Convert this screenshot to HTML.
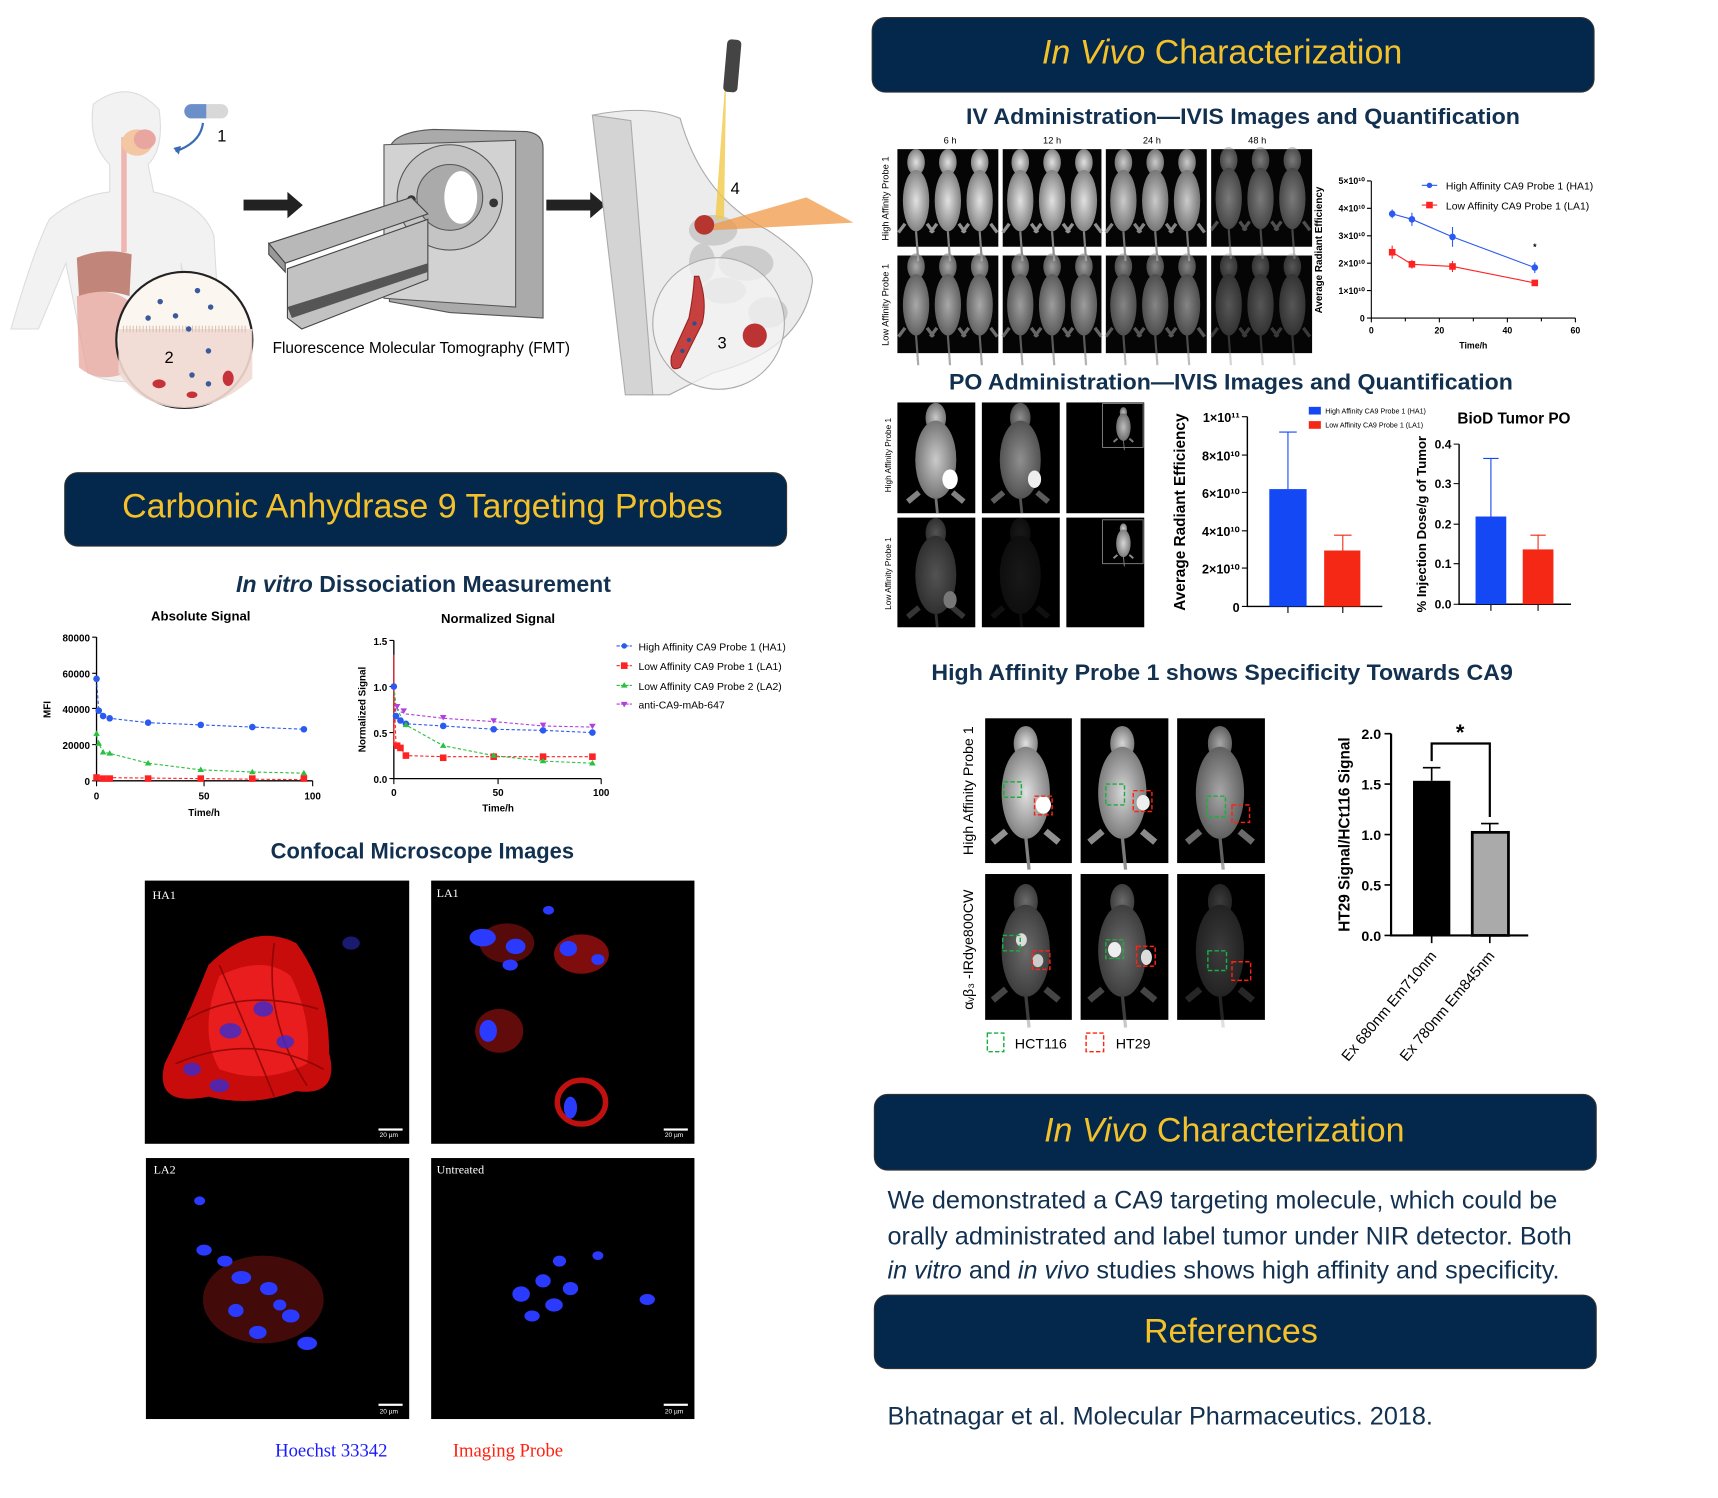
<!DOCTYPE html>
<html><head><meta charset="utf-8"><style>
html,body{margin:0;padding:0;background:#fff;overflow:hidden}
svg{display:block}
svg{font-family:"Liberation Sans",Arial,sans-serif}
</style></head><body>
<svg width="1718" height="1498" viewBox="0 0 1566 1366" preserveAspectRatio="none" xmlns="http://www.w3.org/2000/svg">
<defs>
<radialGradient id="mg" cx="50%" cy="50%" r="50%"><stop offset="0" stop-color="#eee"/><stop offset="1" stop-color="#8a8a8a"/></radialGradient>
<g id="mouse">
<ellipse cx="0" cy="-30" rx="8" ry="12" fill="url(#mg)"/>
<ellipse cx="0" cy="5" rx="12" ry="28" fill="url(#mg)"/>
<path d="M-10 26 L-16 34 M10 26 L16 34" stroke="#999" stroke-width="3"/>
<path d="M0 33 L2 60" stroke="#888" stroke-width="2"/>
</g>
<g id="mouse2">
<ellipse cx="0" cy="-40" rx="11" ry="16" fill="url(#mg)"/>
<ellipse cx="0" cy="5" rx="22" ry="42" fill="url(#mg)"/>
<path d="M-18 40 L-30 50 M18 40 L30 50" stroke="#999" stroke-width="6"/>
<path d="M0 45 L3 75" stroke="#888" stroke-width="3"/>
</g>
</defs>

<!-- ===== Top-left illustration ===== -->
<g>
<path d="M85 95 Q118 70 145 100 Q150 135 135 150 L140 175 Q185 185 195 215 L200 300 L180 310 L165 240 L170 330 Q120 360 80 340 L60 240 L35 300 L10 300 Q30 230 45 200 Q70 178 100 175 L100 150 Q80 130 85 95Z" fill="#f2f2f2" stroke="#ddd"/>
<path d="M113 125 L113 230" stroke="#f0b5b0" stroke-width="5"/>
<ellipse cx="125" cy="130" rx="14" ry="12" fill="#f3c7a2"/>
<ellipse cx="132" cy="127" rx="10" ry="9" fill="#e9a5a0"/>
<path d="M70 235 Q95 225 120 232 L118 270 Q95 262 72 270Z" fill="#b46a5a" opacity="0.8"/>
<path d="M70 270 Q100 260 118 275 L115 340 Q90 350 72 335Z" fill="#e8a095" opacity="0.7"/>
<rect x="168" y="95" width="40" height="13" rx="6.5" fill="#d8d8d8"/>
<path d="M168 101.5 a6.5 6.5 0 0 1 6.5-6.5 H188 V108 H174.5 a6.5 6.5 0 0 1-6.5-6.5Z" fill="#6b8fc9"/>
<path d="M185 112 Q183 130 160 138" stroke="#3a6bb5" stroke-width="2" fill="none"/>
<path d="M158 135 L163 141 L165 133Z" fill="#3a6bb5"/>
<text x="198" y="129" font-size="15">1</text>
<circle cx="168" cy="310" r="62" fill="#fbf6ef" stroke="#222" stroke-width="2"/>
<path d="M108 300 H230 V345 Q200 372 168 372 Q130 372 108 340Z" fill="#f1d9d3" opacity="0.9"/>
<path d="M112 300 H226" stroke="#d9c2b5" stroke-width="6" stroke-dasharray="1 2"/>
<g fill="#3a5a9a"><circle cx="146" cy="275" r="2.5"/><circle cx="160" cy="288" r="2.5"/><circle cx="180" cy="265" r="2.5"/><circle cx="192" cy="280" r="2.5"/><circle cx="135" cy="290" r="2.5"/><circle cx="172" cy="300" r="2.5"/><circle cx="190" cy="320" r="2.5"/><circle cx="175" cy="342" r="2.5"/><circle cx="190" cy="350" r="2.5"/></g>
<g fill="#c6323a"><ellipse cx="145" cy="350" rx="6" ry="4"/><ellipse cx="208" cy="345" rx="5" ry="7"/><ellipse cx="175" cy="360" rx="5" ry="3"/></g>
<text x="150" y="331" font-size="15">2</text>
</g>
<path d="M222 182 H262 V175 L276 187 L262 199 V192 H222Z" fill="#222"/>
<path d="M498 182 H538 V175 L552 187 L538 199 V192 H498Z" fill="#222"/>
<!-- scanner -->
<g>
<path d="M355 135 Q360 120 395 118 L480 120 Q495 122 495 135 L495 290 L410 285 L355 275Z" fill="#aaa" stroke="#555"/>
<path d="M350 132 L470 128 L470 280 L350 272Z" fill="#d2d2d2" stroke="#555"/>
<circle cx="410" cy="180" r="48" fill="#c4c4c4" stroke="#555"/>
<circle cx="410" cy="180" r="30" fill="#aaa" stroke="#555"/>
<ellipse cx="420" cy="180" rx="15" ry="24" fill="#fff"/>
<circle cx="375" cy="182" r="4" fill="#333"/><circle cx="450" cy="185" r="4" fill="#333"/>
<path d="M245 222 L375 180 L390 195 L260 240Z" fill="#b8b8b8" stroke="#444"/>
<path d="M245 222 L260 240 L260 248 L245 232Z" fill="#999" stroke="#444"/>
<path d="M262 245 L390 200 L390 255 L275 300 L262 290Z" fill="#c2c2c2" stroke="#444"/>
<path d="M262 280 L390 240 L390 248 L266 290Z" fill="#555"/>
<text x="384" y="322" font-size="14" text-anchor="middle">Fluorescence Molecular Tomography (FMT)</text>
</g>
<!-- breast -->
<g>
<path d="M540 105 Q590 95 620 108 Q640 180 700 210 Q745 240 740 260 Q730 320 650 340 L610 360 L590 360 Z" fill="#ececec" stroke="#aaa"/>
<path d="M540 105 L575 110 L595 360 L570 360Z" fill="#d4d4d4" stroke="#aaa"/>
<g fill="#ccc"><ellipse cx="650" cy="210" rx="22" ry="14"/><ellipse cx="680" cy="240" rx="25" ry="16"/><ellipse cx="660" cy="265" rx="20" ry="12"/><ellipse cx="700" cy="285" rx="18" ry="14"/><ellipse cx="640" cy="240" rx="12" ry="18"/></g>
<circle cx="655" cy="295" r="60" fill="#f3f3f3" fill-opacity="0.75" stroke="#aaa"/>
<path d="M637 252 Q645 275 640 295 L620 335 Q610 340 612 325 L628 290 Q632 270 633 252Z" fill="#c74040" stroke="#922"/>
<g fill="#2d4f8a"><circle cx="628" cy="310" r="2"/><circle cx="633" cy="295" r="2"/><circle cx="622" cy="320" r="2"/></g>
<circle cx="688" cy="306" r="11" fill="#b33"/>
<text x="654" y="318" font-size="15">3</text>
<path d="M662 62 L660 200 L652 200Z" fill="#f3c94a" opacity="0.8"/>
<rect x="661" y="36" width="13" height="48" rx="4" fill="#444" transform="rotate(5 667 60)"/>
<path d="M648 205 L735 180 L778 203 L650 210Z" fill="#f09a45" opacity="0.75"/>
<circle cx="642" cy="205" r="9" fill="#b7352f"/>
<text x="666" y="177" font-size="15">4</text>
</g>

<!-- ===== Banner CA9 ===== -->
<rect x="59" y="431" width="658" height="67" rx="12" fill="#04284b" stroke="#333" stroke-width="1"/>
<text x="385" y="472" font-size="31" fill="#f4c12a" text-anchor="middle">Carbonic Anhydrase 9 Targeting Probes</text>

<text x="386" y="540" font-size="21" font-weight="bold" fill="#12304f" text-anchor="middle"><tspan font-style="italic">In vitro</tspan> Dissociation Measurement</text>

<!-- Absolute signal chart -->
<g font-size="9" font-weight="bold">
<text x="183" y="566" font-size="12" text-anchor="middle">Absolute Signal</text>
<path d="M88 581 V712 H285" stroke="#000" fill="none" stroke-width="1.2"/>
<g stroke="#000"><path d="M84 581H88M84 614H88M84 646H88M84 679H88M84 712H88"/><path d="M88 712V717M186 712V717M285 712V717"/></g>
<text x="82" y="585" text-anchor="end">80000</text><text x="82" y="618" text-anchor="end">60000</text><text x="82" y="650" text-anchor="end">40000</text><text x="82" y="683" text-anchor="end">20000</text><text x="82" y="716" text-anchor="end">0</text>
<text x="88" y="729" text-anchor="middle">0</text><text x="186" y="729" text-anchor="middle">50</text><text x="285" y="729" text-anchor="middle">100</text>
<text x="186" y="744" text-anchor="middle">Time/h</text>
<text x="46" y="647" transform="rotate(-90 46 647)" text-anchor="middle">MFI</text>
<polyline points="88,619 90,648 94,653 100,655 135,659 183,661 230,663 277,665" fill="none" stroke="#2a5af0" stroke-dasharray="3 2"/>
<polyline points="88,670 90,678 94,686 100,687 135,696 183,702 230,704 277,705" fill="none" stroke="#2ac040" stroke-dasharray="3 2"/>
<polyline points="88,709 277,711" fill="none" stroke="#f22" stroke-dasharray="3 2"/>
<g fill="#2a5af0"><circle cx="88" cy="619" r="3"/><circle cx="90" cy="648" r="3"/><circle cx="94" cy="653" r="3"/><circle cx="100" cy="655" r="3"/><circle cx="135" cy="659" r="3"/><circle cx="183" cy="661" r="3"/><circle cx="230" cy="663" r="3"/><circle cx="277" cy="665" r="3"/></g>
<g fill="#2ac040"><path d="M88 666l3 5h-6z M90 675l3 5h-6z M94 683l3 5h-6z M100 684l3 5h-6z M135 693l3 5h-6z M183 699l3 5h-6z M230 701l3 5h-6z M277 702l3 5h-6z"/></g>
<g fill="#f22"><rect x="85" y="706" width="6" height="6"/><rect x="91" y="707" width="6" height="6"/><rect x="97" y="707" width="6" height="6"/><rect x="132" y="707" width="6" height="6"/><rect x="180" y="707" width="6" height="6"/><rect x="227" y="707" width="6" height="6"/><rect x="274" y="707" width="6" height="6"/></g>
</g>
<!-- Normalized chart -->
<g font-size="9" font-weight="bold">
<text x="454" y="568" font-size="12" text-anchor="middle">Normalized Signal</text>
<path d="M359 584 V710 H548" stroke="#000" fill="none" stroke-width="1.2"/>
<g stroke="#000"><path d="M355 584H359M355 626H359M355 668H359M355 710H359"/><path d="M359 710V715M454 710V715M548 710V715"/></g>
<text x="353" y="588" text-anchor="end">1.5</text><text x="353" y="630" text-anchor="end">1.0</text><text x="353" y="672" text-anchor="end">0.5</text><text x="353" y="714" text-anchor="end">0.0</text>
<text x="359" y="726" text-anchor="middle">0</text><text x="454" y="726" text-anchor="middle">50</text><text x="548" y="726" text-anchor="middle">100</text>
<text x="454" y="740" text-anchor="middle">Time/h</text>
<text x="333" y="647" transform="rotate(-90 333 647)" text-anchor="middle">Normalized Signal</text>
<path d="M359 597 V680" stroke="#f22"/>
<polyline points="359,626 361,653 365,657 370,660 404,662 450,665 495,666 540,668" fill="none" stroke="#2a5af0" stroke-dasharray="3 2"/>
<polyline points="359,626 361,645 365,649 370,651 404,655 450,658 495,662 540,663" fill="none" stroke="#b040e0" stroke-dasharray="3 2"/>
<polyline points="359,626 361,680 365,682 370,689 404,690 450,690 495,690 540,690" fill="none" stroke="#f22" stroke-dasharray="3 2"/>
<polyline points="359,626 361,645 370,661 404,680 450,689 495,694 540,696" fill="none" stroke="#2ac040" stroke-dasharray="3 2"/>
<g fill="#2a5af0"><circle cx="359" cy="626" r="3"/><circle cx="361" cy="653" r="3"/><circle cx="365" cy="657" r="3"/><circle cx="370" cy="660" r="3"/><circle cx="404" cy="662" r="3"/><circle cx="450" cy="665" r="3"/><circle cx="495" cy="666" r="3"/><circle cx="540" cy="668" r="3"/></g>
<g fill="#b040e0"><path d="M362 647l3-5h-6z M368 651l3-5h-6z M404 657l3-5h-6z M450 660l3-5h-6z M495 664l3-5h-6z M540 665l3-5h-6z"/></g>
<g fill="#f22"><rect x="359" y="677" width="6" height="6"/><rect x="362" y="679" width="6" height="6"/><rect x="367" y="686" width="6" height="6"/><rect x="401" y="688" width="6" height="6"/><rect x="447" y="687" width="6" height="6"/><rect x="492" y="687" width="6" height="6"/><rect x="537" y="687" width="6" height="6"/></g>
<g fill="#2ac040"><path d="M370 658l3 5h-6z M404 677l3 5h-6z M450 686l3 5h-6z M495 691l3 5h-6z M540 693l3 5h-6z"/></g>
<g font-weight="normal" font-size="9.5">
<path d="M562 589h14" stroke="#2a5af0" stroke-dasharray="3 1"/><circle cx="569" cy="589" r="2.5" fill="#2a5af0"/><text x="582" y="593">High Affinity CA9 Probe 1 (HA1)</text>
<path d="M562 607h14" stroke="#f22" stroke-dasharray="3 1"/><rect x="566" y="604" width="6" height="6" fill="#f22"/><text x="582" y="611">Low Affinity CA9 Probe 1 (LA1)</text>
<path d="M562 625h14" stroke="#2ac040" stroke-dasharray="3 1"/><path d="M569 622l3 5h-6z" fill="#2ac040"/><text x="582" y="629">Low Affinity CA9 Probe 2 (LA2)</text>
<path d="M562 642h14" stroke="#b040e0" stroke-dasharray="3 1"/><path d="M569 645l3-5h-6z" fill="#b040e0"/><text x="582" y="646">anti-CA9-mAb-647</text>
</g>
</g>

<text x="385" y="783" font-size="20" font-weight="bold" fill="#12304f" text-anchor="middle">Confocal Microscope Images</text>
<!-- confocal -->
<rect x="132" y="803" width="241" height="240" fill="#000"/>
<rect x="393" y="803" width="240" height="240" fill="#000"/>
<rect x="133" y="1056" width="240" height="238" fill="#000"/>
<rect x="393" y="1056" width="240" height="238" fill="#000"/>
<path d="M190 880 Q230 840 270 860 Q300 900 300 960 Q310 1000 270 995 Q230 1010 190 1000 Q140 1010 150 970 Q170 930 190 880Z" fill="#c80c0c"/>
<path d="M200 890 Q240 870 265 890 Q285 930 280 970 Q240 990 200 975 Q180 940 200 890Z" fill="#ff2a2a" opacity="0.6"/>
<g stroke="#7a0000" stroke-width="1.5" fill="none" opacity="0.7"><path d="M170 930 Q220 900 290 920"/><path d="M160 970 Q230 940 295 975"/><path d="M200 880 Q230 950 250 1000"/><path d="M250 860 Q240 930 280 990"/></g>
<g fill="#3a2bd0" opacity="0.8"><ellipse cx="210" cy="940" rx="10" ry="7"/><ellipse cx="240" cy="920" rx="9" ry="7"/><ellipse cx="200" cy="990" rx="9" ry="6"/><ellipse cx="260" cy="950" rx="8" ry="6"/><ellipse cx="175" cy="975" rx="8" ry="6"/></g>
<ellipse cx="320" cy="860" rx="8" ry="6" fill="#1a1a70"/>
<g><ellipse cx="530" cy="870" rx="25" ry="18" fill="#a01010" opacity="0.8"/><ellipse cx="462" cy="860" rx="25" ry="18" fill="#901010" opacity="0.6"/><ellipse cx="455" cy="940" rx="22" ry="20" fill="#8a1010" opacity="0.7"/><ellipse cx="530" cy="1005" rx="22" ry="20" fill="none" stroke="#c01010" stroke-width="5"/></g>
<g fill="#2a3aff"><ellipse cx="440" cy="855" rx="12" ry="8"/><ellipse cx="470" cy="863" rx="9" ry="7"/><ellipse cx="465" cy="880" rx="7" ry="5"/><ellipse cx="518" cy="865" rx="8" ry="7"/><ellipse cx="545" cy="875" rx="6" ry="5"/><ellipse cx="445" cy="940" rx="8" ry="10"/><ellipse cx="520" cy="1010" rx="6" ry="10"/><ellipse cx="500" cy="830" rx="5" ry="4"/></g>
<g><ellipse cx="240" cy="1185" rx="55" ry="40" fill="#701010" opacity="0.6"/></g>
<g fill="#2a3aff"><ellipse cx="186" cy="1140" rx="7" ry="5"/><ellipse cx="205" cy="1150" rx="7" ry="5"/><ellipse cx="220" cy="1165" rx="9" ry="6"/><ellipse cx="245" cy="1175" rx="8" ry="6"/><ellipse cx="215" cy="1195" rx="7" ry="6"/><ellipse cx="265" cy="1200" rx="8" ry="6"/><ellipse cx="235" cy="1215" rx="8" ry="6"/><ellipse cx="280" cy="1225" rx="9" ry="6"/><ellipse cx="182" cy="1095" rx="5" ry="4"/><ellipse cx="255" cy="1190" rx="6" ry="5"/></g>
<g fill="#2a3aff"><ellipse cx="475" cy="1180" rx="8" ry="7"/><ellipse cx="495" cy="1168" rx="7" ry="6"/><ellipse cx="505" cy="1190" rx="8" ry="6"/><ellipse cx="520" cy="1175" rx="7" ry="6"/><ellipse cx="485" cy="1200" rx="7" ry="5"/><ellipse cx="510" cy="1150" rx="6" ry="5"/><ellipse cx="590" cy="1185" rx="7" ry="5"/><ellipse cx="545" cy="1145" rx="5" ry="4"/></g>
<g style="font-family:'Liberation Serif',serif" font-size="11" fill="#fff"><text x="139" y="820">HA1</text><text x="398" y="818">LA1</text><text x="140" y="1070">LA2</text><text x="398" y="1070">Untreated</text></g>
<g fill="#fff" font-size="6"><rect x="345" y="1029" width="22" height="2"/><rect x="605" y="1029" width="22" height="2"/><rect x="345" y="1280" width="22" height="2"/><rect x="605" y="1280" width="22" height="2"/>
<text x="346" y="1037">20 µm</text><text x="606" y="1037">20 µm</text><text x="346" y="1289">20 µm</text><text x="606" y="1289">20 µm</text></g>
<text x="302" y="1328" style="font-family:'Liberation Serif',serif" font-size="17" fill="#1a1aff" text-anchor="middle">Hoechst 33342</text>
<text x="463" y="1328" style="font-family:'Liberation Serif',serif" font-size="17" fill="#f21" text-anchor="middle">Imaging Probe</text>

<!-- ===== Right column ===== -->
<rect x="795" y="16" width="658" height="68" rx="12" fill="#04284b" stroke="#333"/>
<text x="1114" y="58" font-size="31" fill="#f4c12a" text-anchor="middle"><tspan font-style="italic">In Vivo</tspan> Characterization</text>
<text x="1133" y="113" font-size="20" font-weight="bold" fill="#12304f" text-anchor="middle" textLength="505" lengthAdjust="spacingAndGlyphs">IV Administration—IVIS Images and Quantification</text>
<g font-size="8.5">
<text x="866" y="131" text-anchor="middle">6 h</text><text x="959" y="131" text-anchor="middle">12 h</text><text x="1050" y="131" text-anchor="middle">24 h</text><text x="1146" y="131" text-anchor="middle">48 h</text>
<text x="810" y="181" transform="rotate(-90 810 181)" text-anchor="middle">High Affinity Probe 1</text>
<text x="810" y="278" transform="rotate(-90 810 278)" text-anchor="middle">Low Affinity Probe 1</text>
</g>
<g>
<rect x="818" y="136" width="92" height="89" fill="#050505"/><rect x="914" y="136" width="90" height="89" fill="#050505"/><rect x="1008" y="136" width="92" height="89" fill="#050505"/><rect x="1104" y="136" width="92" height="89" fill="#050505"/>
<rect x="818" y="233" width="92" height="89" fill="#050505"/><rect x="914" y="233" width="90" height="89" fill="#050505"/><rect x="1008" y="233" width="92" height="89" fill="#050505"/><rect x="1104" y="233" width="92" height="89" fill="#050505"/>
<g opacity="0.95"><use href="#mouse" x="835" y="178"/><use href="#mouse" x="864" y="178"/><use href="#mouse" x="893" y="178"/></g>
<g opacity="0.95"><use href="#mouse" x="930" y="178"/><use href="#mouse" x="959" y="178"/><use href="#mouse" x="988" y="178"/></g>
<g opacity="0.85"><use href="#mouse" x="1024" y="178"/><use href="#mouse" x="1053" y="178"/><use href="#mouse" x="1082" y="178"/></g>
<g opacity="0.5"><use href="#mouse" x="1120" y="176"/><use href="#mouse" x="1149" y="176"/><use href="#mouse" x="1178" y="176"/></g>
<g opacity="0.7"><use href="#mouse" x="835" y="273"/><use href="#mouse" x="864" y="273"/><use href="#mouse" x="893" y="273"/></g>
<g opacity="0.65"><use href="#mouse" x="930" y="273"/><use href="#mouse" x="959" y="273"/><use href="#mouse" x="988" y="273"/></g>
<g opacity="0.55"><use href="#mouse" x="1024" y="273"/><use href="#mouse" x="1053" y="273"/><use href="#mouse" x="1082" y="273"/></g>
<g opacity="0.35"><use href="#mouse" x="1120" y="273"/><use href="#mouse" x="1149" y="273"/><use href="#mouse" x="1178" y="273"/></g>
</g>
<!-- IV line chart -->
<g font-size="8" font-weight="bold">
<path d="M1250 165 V290 H1436" stroke="#000" fill="none"/>
<g stroke="#000"><path d="M1246 165H1250M1246 190H1250M1246 215H1250M1246 240H1250M1246 265H1250M1246 290H1250"/><path d="M1250 290v4M1281 290v3M1312 290v4M1343 290v3M1374 290v4M1405 290v3M1436 290v4"/></g>
<text x="1244" y="168" text-anchor="end">5×10¹⁰</text><text x="1244" y="193" text-anchor="end">4×10¹⁰</text><text x="1244" y="218" text-anchor="end">3×10¹⁰</text><text x="1244" y="243" text-anchor="end">2×10¹⁰</text><text x="1244" y="268" text-anchor="end">1×10¹⁰</text><text x="1244" y="293" text-anchor="end">0</text>
<text x="1250" y="304" text-anchor="middle">0</text><text x="1312" y="304" text-anchor="middle">20</text><text x="1374" y="304" text-anchor="middle">40</text><text x="1436" y="304" text-anchor="middle">60</text>
<text x="1343" y="318" text-anchor="middle">Time/h</text>
<text x="1205" y="228" transform="rotate(-90 1205 228)" text-anchor="middle" font-size="9">Average Radiant Efficiency</text>
<polyline points="1269,195 1287,200 1324,216 1399,244" fill="none" stroke="#2a5af0"/>
<polyline points="1269,230 1287,241 1324,243 1399,258" fill="none" stroke="#f22"/>
<g stroke="#2a5af0"><path d="M1269 191v8M1287 194v12M1324 207v18M1399 239v10"/></g>
<g stroke="#f22"><path d="M1269 224v12M1287 237v8M1324 238v10"/></g>
<g fill="#2a5af0"><circle cx="1269" cy="195" r="3"/><circle cx="1287" cy="200" r="3"/><circle cx="1324" cy="216" r="3"/><circle cx="1399" cy="244" r="3"/></g>
<g fill="#f22"><rect x="1266" y="227" width="6" height="6"/><rect x="1284" y="238" width="6" height="6"/><rect x="1321" y="240" width="6" height="6"/><rect x="1396" y="255" width="6" height="6"/></g>
<text x="1399" y="228" text-anchor="middle">*</text>
<g font-weight="normal" font-size="9.5"><path d="M1296 169h14" stroke="#2a5af0"/><circle cx="1303" cy="169" r="2.5" fill="#2a5af0"/><text x="1318" y="173">High Affinity CA9 Probe 1 (HA1)</text>
<path d="M1296 187h14" stroke="#f22"/><rect x="1300" y="184" width="6" height="6" fill="#f22"/><text x="1318" y="191">Low Affinity CA9 Probe 1 (LA1)</text></g>
</g>

<text x="1122" y="355" font-size="20" font-weight="bold" fill="#12304f" text-anchor="middle" textLength="514" lengthAdjust="spacingAndGlyphs">PO Administration—IVIS Images and Quantification</text>
<g>
<rect x="818" y="367" width="71" height="101" fill="#000"/><rect x="895" y="367" width="71" height="101" fill="#000"/><rect x="972" y="367" width="71" height="101" fill="#000"/>
<rect x="818" y="472" width="71" height="100" fill="#000"/><rect x="895" y="472" width="71" height="100" fill="#000"/><rect x="972" y="472" width="71" height="100" fill="#000"/>
<svg x="818" y="367" width="71" height="101"><g transform="translate(35 48) scale(0.85)"><use href="#mouse2" opacity="0.85"/></g><ellipse cx="48" cy="70" rx="7" ry="9" fill="#fff"/></svg>
<svg x="895" y="367" width="71" height="101"><g transform="translate(35 48) scale(0.85)"><use href="#mouse2" opacity="0.6"/></g><ellipse cx="48" cy="70" rx="6" ry="8" fill="#eee"/></svg>
<svg x="818" y="472" width="71" height="100"><g transform="translate(35 48) scale(0.85)"><use href="#mouse2" opacity="0.35"/></g><ellipse cx="48" cy="75" rx="6" ry="8" fill="#777"/></svg>
<svg x="895" y="472" width="71" height="100"><g transform="translate(35 48) scale(0.85)"><use href="#mouse2" opacity="0.1"/></g></svg>
<rect x="1005" y="368" width="37" height="40" fill="#000" stroke="#888" stroke-width="0.8"/><rect x="1005" y="474" width="37" height="40" fill="#000" stroke="#888" stroke-width="0.8"/>
<g transform="translate(1024 388) scale(0.3)"><use href="#mouse2" opacity="0.8"/></g>
<g transform="translate(1024 494) scale(0.3)"><use href="#mouse2" opacity="0.9"/></g>
<text x="812" y="415" font-size="7.5" transform="rotate(-90 812 415)" text-anchor="middle">High Affinity Probe 1</text>
<text x="812" y="523" font-size="7.5" transform="rotate(-90 812 523)" text-anchor="middle">Low Affinity Probe 1</text>
</g>
<!-- PO bar chart -->
<g font-weight="bold">
<path d="M1137 380 V553 H1260" stroke="#000" fill="none" stroke-width="1.3"/>
<g stroke="#000"><path d="M1132 380h5M1132 415h5M1132 449h5M1132 484h5M1132 518h5M1132 553h5M1174 553v6M1224 553v6"/></g>
<g font-size="11.5" text-anchor="end"><text x="1130" y="385">1×10¹¹</text><text x="1130" y="420">8×10¹⁰</text><text x="1130" y="454">6×10¹⁰</text><text x="1130" y="489">4×10¹⁰</text><text x="1130" y="523">2×10¹⁰</text><text x="1130" y="558">0</text></g>
<text x="1080" y="467" font-size="14" transform="rotate(-90 1080 467)" text-anchor="middle">Average Radiant Efficiency</text>
<rect x="1157" y="446" width="34" height="107" fill="#1448f5"/><path d="M1174 446V394M1166 394h16" stroke="#1448f5"/>
<rect x="1207" y="502" width="33" height="51" fill="#f52815"/><path d="M1224 502V488M1216 488h16" stroke="#f52815"/>
<g font-weight="normal" font-size="6.5"><rect x="1193" y="371" width="11" height="7" fill="#1448f5"/><text x="1208" y="377">High Affinity CA9 Probe 1 (HA1)</text><rect x="1193" y="384" width="11" height="7" fill="#f52815"/><text x="1208" y="390">Low Affinity CA9 Probe 1 (LA1)</text></g>
<text x="1380" y="386" font-size="14" text-anchor="middle">BioD Tumor PO</text>
<path d="M1330 405 V551 H1432" stroke="#000" fill="none" stroke-width="1.3"/>
<g stroke="#000"><path d="M1325 405h5M1325 441h5M1325 478h5M1325 514h5M1325 551h5M1359 551v6M1402 551v6"/></g>
<g font-size="11" text-anchor="end"><text x="1323" y="409">0.4</text><text x="1323" y="445">0.3</text><text x="1323" y="482">0.2</text><text x="1323" y="518">0.1</text><text x="1323" y="555">0.0</text></g>
<text x="1300" y="478" font-size="12" transform="rotate(-90 1300 478)" text-anchor="middle">% Injection Dose/g of Tumor</text>
<rect x="1345" y="471" width="28" height="80" fill="#1448f5"/><path d="M1359 471V418M1352 418h14" stroke="#1448f5"/>
<rect x="1388" y="501" width="28" height="50" fill="#f52815"/><path d="M1402 501V488M1395 488h14" stroke="#f52815"/>
</g>

<text x="1114" y="620" font-size="20" font-weight="bold" fill="#12304f" text-anchor="middle" textLength="530" lengthAdjust="spacingAndGlyphs">High Affinity Probe 1 shows Specificity Towards CA9</text>
<g>
<rect x="898" y="655" width="79" height="132" fill="#000"/><rect x="985" y="655" width="80" height="132" fill="#000"/><rect x="1073" y="655" width="80" height="132" fill="#000"/>
<rect x="898" y="797" width="79" height="133" fill="#000"/><rect x="985" y="797" width="80" height="133" fill="#000"/><rect x="1073" y="797" width="80" height="133" fill="#000"/>
<use href="#mouse2" x="935" y="718" opacity="0.95"/><use href="#mouse2" x="1023" y="718" opacity="0.9"/><use href="#mouse2" x="1112" y="718" opacity="0.7"/>
<g opacity="0.45"><use href="#mouse2" x="935" y="862"/><use href="#mouse2" x="1023" y="862"/></g><use href="#mouse2" x="1112" y="862" opacity="0.25"/>
<ellipse cx="951" cy="734" rx="7" ry="8" fill="#fff"/><ellipse cx="1042" cy="732" rx="6" ry="7" fill="#eee"/><ellipse cx="931" cy="857" rx="5" ry="6" fill="#ddd"/><ellipse cx="1016" cy="866" rx="6" ry="7" fill="#eee"/><ellipse cx="1045" cy="873" rx="5" ry="7" fill="#ddd"/><ellipse cx="946" cy="876" rx="5" ry="6" fill="#ccc"/>
<g fill="none" stroke-width="1.3" stroke-dasharray="4 2">
<rect x="915" y="713" width="16" height="14" stroke="#18b040"/><rect x="943" y="726" width="16" height="17" stroke="#f21"/>
<rect x="1008" y="715" width="17" height="19" stroke="#18b040"/><rect x="1033" y="721" width="17" height="19" stroke="#f21"/>
<rect x="1100" y="726" width="17" height="19" stroke="#18b040"/><rect x="1123" y="734" width="16" height="16" stroke="#f21"/>
<rect x="914" y="853" width="16" height="14" stroke="#18b040"/><rect x="941" y="867" width="16" height="17" stroke="#f21"/>
<rect x="1008" y="857" width="16" height="17" stroke="#18b040"/><rect x="1036" y="863" width="17" height="18" stroke="#f21"/>
<rect x="1101" y="867" width="17" height="18" stroke="#18b040"/><rect x="1123" y="877" width="17" height="17" stroke="#f21"/>
<rect x="900" y="942" width="15" height="17" stroke="#18b040"/><rect x="990" y="942" width="16" height="17" stroke="#f21"/>
</g>
<g font-size="13"><text x="925" y="956">HCT116</text><text x="1017" y="956">HT29</text>
<text x="887" y="721" transform="rotate(-90 887 721)" text-anchor="middle">High Affinity Probe 1</text>
<text x="887" y="866" transform="rotate(-90 887 866)" text-anchor="middle">αᵥβ₃ -IRdye800CW</text></g>
</g>
<!-- specificity bar chart -->
<g font-weight="bold">
<path d="M1268 669 V853 H1393" stroke="#000" fill="none" stroke-width="2"/>
<g stroke="#000" stroke-width="1.5"><path d="M1262 669h6M1262 715h6M1262 761h6M1262 807h6M1262 853h6M1305 853v7M1358 853v7"/></g>
<g font-size="13" text-anchor="end"><text x="1259" y="674">2.0</text><text x="1259" y="720">1.5</text><text x="1259" y="766">1.0</text><text x="1259" y="812">0.5</text><text x="1259" y="858">0.0</text></g>
<text x="1230" y="761" font-size="14" transform="rotate(-90 1230 761)" text-anchor="middle">HT29  Signal/HCt116 Signal</text>
<rect x="1288" y="712" width="34" height="141" fill="#000"/><path d="M1305 712V700M1297 700h16" stroke="#000" stroke-width="1.5"/>
<rect x="1342" y="759" width="33" height="94" fill="#aaa" stroke="#000" stroke-width="2.5"/><path d="M1358 759V751M1350 751h16" stroke="#000" stroke-width="1.5"/>
<path d="M1305 694V678H1358V745" stroke="#000" stroke-width="2" fill="none"/>
<text x="1331" y="675" font-size="20" text-anchor="middle">*</text>
<g font-weight="normal" font-size="13.5"><text x="1310" y="872" transform="rotate(-50 1310 872)" text-anchor="end">Ex 680nm Em710nm</text><text x="1363" y="872" transform="rotate(-50 1363 872)" text-anchor="end">Ex 780nm Em845nm</text></g>
</g>

<rect x="797" y="998" width="658" height="69" rx="12" fill="#04284b" stroke="#333"/>
<text x="1116" y="1041" font-size="31" fill="#f4c12a" text-anchor="middle"><tspan font-style="italic">In Vivo</tspan> Characterization</text>
<g font-size="23" fill="#12304f">
<text x="809" y="1102">We demonstrated a CA9 targeting molecule, which could be</text>
<text x="809" y="1135">orally administrated and label tumor under NIR detector. Both</text>
<text x="809" y="1166"><tspan font-style="italic">in vitro</tspan> and <tspan font-style="italic">in vivo</tspan> studies shows high affinity and specificity.</text>
</g>
<rect x="797" y="1181" width="658" height="67" rx="12" fill="#04284b" stroke="#333"/>
<text x="1122" y="1224" font-size="31" fill="#f4c12a" text-anchor="middle">References</text>
<text x="809" y="1299" font-size="23" fill="#12304f">Bhatnagar et al. Molecular Pharmaceutics. 2018.</text>
</svg>
</body></html>
